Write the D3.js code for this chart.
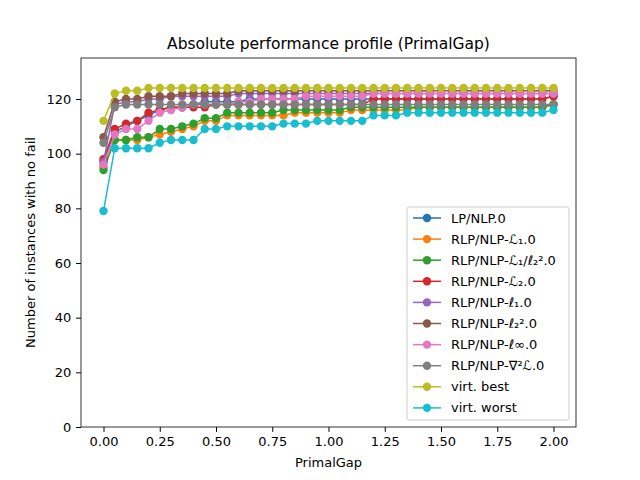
<!DOCTYPE html>
<html><head><meta charset="utf-8">
<script src="https://cdn.jsdelivr.net/npm/d3@7"></script>
<style>body{margin:0;background:#fff}text{font-family:"DejaVu Sans",sans-serif}</style>
</head><body><div id="chart"></div>
<script>
// x grid: 0 .. 2.0 step 0.05
const xs = d3.range(41).map(i => +(i * 0.05).toFixed(2));
const names = ['LP/NLP.0', 'RLP/NLP-ℒ₁.0', 'RLP/NLP-ℒ₁/ℓ₂².0', 'RLP/NLP-ℒ₂.0', 'RLP/NLP-ℓ₁.0',
  'RLP/NLP-ℓ₂².0', 'RLP/NLP-ℓ∞.0', 'RLP/NLP-∇²ℒ.0', 'virt. best', 'virt. worst'];
const colors = ['#1f77b4', '#ff7f0e', '#2ca02c', '#d62728', '#9467bd', '#8c564b', '#e377c2', '#7f7f7f', '#bcbd22', '#17becf'];
const fill = (head, v) => head.concat(Array(41 - head.length).fill(v));

const lpNlp = fill([97,108,110,112,114,116,117,117,118,119,119,119,119], 120).slice(0, 40).concat([121]);
const l1 = fill([95,105,105,105,106,107,108,109,110,112,112,114,114,114,114,114,114,115,115,115,115,115,116,116,116,116,116,116], 117).slice(0, 40).concat([118]);
const l1l22 = fill([94,105,105,106,106,109,109,110,111,113,113,115,115,115,115,115,116,116,116,116,116,116], 117).slice(0, 40).concat([118]);
const l2 = fill([98,109,111,112,115,116,117,117,117,117,118,118,118,118,118,118,118,118,118,118,118,118,118,118], 120).slice(0, 40).concat([121]);
const ell1 = fill([97,118,119,119,120,120,121,121,121,121,121,121], 122);
const ell22 = fill([106,119,120,120,121,121,121,122,122,122,122,122], 123);
const ellInf = fill([96,107,109,109,112,115,116,117,118,118,118,118,119,119,120,120,120,120,121,121,121,121,121,121], 122);
const hess = fill([104,117], 118);
const best = fill([112,122,123,123], 124);
const worst = fill([79,102,102,102,102,104,105,105,105,109,109,110,110,110,110,110,111,111,111,112,112,112,112,112,114,114,114], 115).slice(0, 40).concat([116]);
const series = [lpNlp, l1, l1l22, l2, ell1, ell22, ellInf, hess, best, worst];
const xTicks = [0, 0.25, 0.5, 0.75, 1, 1.25, 1.5, 1.75, 2];
const yTicks = [0, 20, 40, 60, 80, 100, 120];

const W = 640, H = 480, m = {l: 81, r: 64, t: 58, b: 53};
const svg = d3.select('#chart').append('svg').attr('width', W).attr('height', H);
const x = d3.scaleLinear().domain([-0.1, 2.1]).range([m.l, W - m.r]);
const y = d3.scaleLinear().domain([0, 135]).range([H - m.b, m.t]);

const g = svg.append('g');
series.forEach((s, k) => {
  const pts = xs.map((v, i) => [v, s[i]]);
  g.append('path').datum(pts).attr('fill', 'none').attr('stroke', colors[k]).attr('stroke-width', 1.5)
    .attr('d', d3.line().x(d => x(d[0])).y(d => y(d[1])));
  g.selectAll(null).data(pts).enter().append('circle')
    .attr('cx', d => x(d[0])).attr('cy', d => y(d[1])).attr('r', 4.2).attr('fill', colors[k]);
});

const xa = svg.append('g').attr('transform', `translate(0,${H - m.b})`)
  .call(d3.axisBottom(x).tickValues(xTicks).tickFormat(d3.format('.2f')).tickSizeOuter(0).tickSize(4.9).tickPadding(4.9));
const ya = svg.append('g').attr('transform', `translate(${m.l},0)`)
  .call(d3.axisLeft(y).tickValues(yTicks).tickSizeOuter(0).tickSize(4.9).tickPadding(4.9));
[xa, ya].forEach(a => { a.selectAll('text').attr('font-size', 13).attr('fill', '#000'); a.select('.domain').remove(); });
svg.append('rect').attr('x', m.l).attr('y', m.t).attr('width', W - m.r - m.l).attr('height', H - m.b - m.t)
  .attr('fill', 'none').attr('stroke', '#000').attr('stroke-width', 0.8);

svg.append('text').attr('x', (m.l + W - m.r) / 2).attr('y', 49).attr('text-anchor', 'middle').attr('font-size', 15.5).text('Absolute performance profile (PrimalGap)');
svg.append('text').attr('x', (m.l + W - m.r) / 2).attr('y', 467).attr('text-anchor', 'middle').attr('font-size', 13).text('PrimalGap');
svg.append('text').attr('transform', `translate(35,${(m.t + H - m.b) / 2}) rotate(-90)`).attr('text-anchor', 'middle').attr('font-size', 13).text('Number of instances with no fail');

const lg = svg.append('g').attr('transform', 'translate(407,207)');
lg.append('rect').attr('width', 162).attr('height', 213).attr('rx', 2).attr('fill', '#fff').attr('fill-opacity', 0.8).attr('stroke', '#ccc');
names.forEach((n, k) => {
  const yy = 11 + k * 21.1;
  lg.append('line').attr('x1', 6).attr('x2', 34).attr('y1', yy).attr('y2', yy).attr('stroke', colors[k]).attr('stroke-width', 1.5);
  lg.append('circle').attr('cx', 20).attr('cy', yy).attr('r', 4.2).attr('fill', colors[k]);
  lg.append('text').attr('x', 44).attr('y', yy + 4.5).attr('font-size', 13).text(n);
});
</script></body></html>
